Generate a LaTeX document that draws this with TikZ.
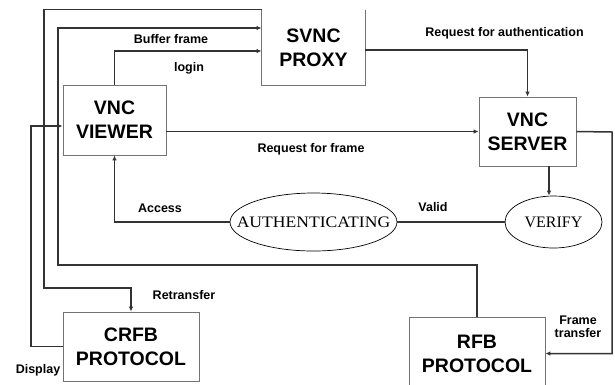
\documentclass[tikz,border=0pt]{standalone}
\usepackage{fontspec}
\setmainfont{Liberation Serif}
\setsansfont{Liberation Sans}
\usetikzlibrary{arrows.meta,calc,shapes.geometric}
\tikzset{
  box/.style={draw=black!55, line width=0.8pt, fill=white, inner sep=0pt, align=center,
    font=\sffamily\bfseries\fontsize{19.5}{24}\selectfont},
  oval/.style={ellipse, draw=black, line width=0.7pt, inner sep=0pt,
    font=\rmfamily\fontsize{16}{18}\selectfont},
  conn/.style={draw=black!80, line width=1.5pt},
  arr/.style={conn, -{Latex[length=5pt,width=4.5pt]}},
  lbl/.style={font=\sffamily\bfseries\fontsize{12.5}{14}\selectfont, inner sep=0pt, align=center}
}
\begin{document}
\begin{tikzpicture}[x=1pt,y=-1pt]
\useasboundingbox (0,0) rectangle (615,384);
% boxes
\node[box, minimum width=103pt, minimum height=70pt] (viewer) at (114.5,120) {VNC\\VIEWER};
\node[box, minimum width=97pt, minimum height=69pt] (server) at (527.5,131.5) {VNC\\SERVER};
\node[box, minimum width=136pt, minimum height=69pt] (crfb) at (131,346.5) {CRFB\\PROTOCOL};
\node[box, minimum width=136pt, minimum height=73pt] (rfb) at (477,353.5) {RFB\\PROTOCOL};
\node[box, draw=none, fill=none, minimum width=103pt, minimum height=75pt] (svnc) at (313.5,47.5) {SVNC\\PROXY};
\draw[draw=black!55, line width=0.8pt] (svnc.north west) -- (svnc.south west) -- (svnc.south east) -- (svnc.north east);
% ellipses
\node[oval, minimum width=167pt, minimum height=58pt] (auth) at (313.5,222) {\makebox[0pt]{\scalebox{1.1}[1]{AUTHENTICATING}}};
\node[oval, minimum width=97pt, minimum height=52pt] (verify) at (553.5,222) {\makebox[0pt]{VERIFY}};
% coordinates
\coordinate (b1) at (58,265);
\coordinate (b2) at (58,28);
\coordinate (o1) at (44,288);
\coordinate (d1) at (31,346.5);
\coordinate (f1) at (612,132);
% connectors
\draw[arr] (viewer.north) |- (svnc.west |- 0,51);
\draw[arr] (rfb.north) |- (b1) -- (b2) -- (svnc.west |- b2);
\draw[arr] (svnc.north west) -| (o1) -| (crfb.north);
\draw[arr] (crfb.west) -- (d1) |- ([yshift=-6pt]viewer.west);
\draw[arr] (viewer.east |- server.west) -- (server.west);
\draw[arr] (svnc.east |- 0,50) -| (server.north);
\draw[arr] (server.south -| 549,0) -- (verify.north -| 549,0);
\draw[conn] (verify) -- (auth);
\draw[arr] (auth.west) -| (viewer.south);
\draw[arr] (server.east) -- (f1) |- (rfb.east);
% labels
\node[lbl] at (171,39) {Buffer frame};
\node[lbl] at (189,68) {login};
\node[lbl] at (504.5,33) {Request for authentication};
\node[lbl] at (311,149) {Request for frame};
\node[lbl] at (160,208) {Access};
\node[lbl] at (433,207) {Valid};
\node[lbl] at (184,295) {Retransfer};
\node[lbl] at (38,370) {Display};
\node[lbl, font=\sffamily\bfseries\fontsize{12.5}{13}\selectfont] at (578,327) {Frame\\transfer};
\end{tikzpicture}
\end{document}
